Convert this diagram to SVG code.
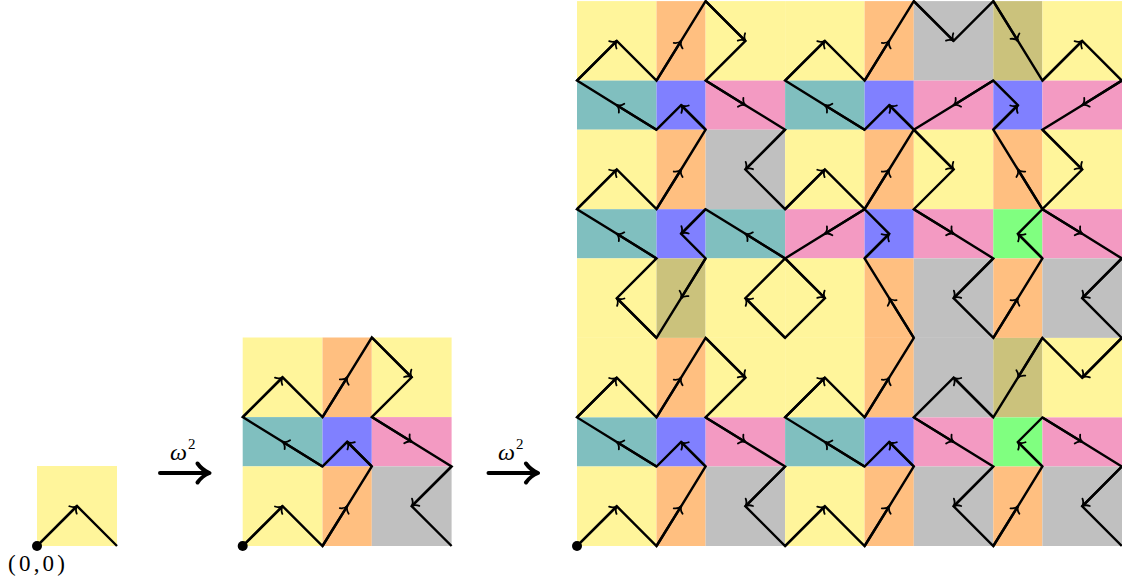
<svg xmlns="http://www.w3.org/2000/svg" width="1122" height="584" viewBox="0 0 1122 584">
<style>
.y{fill:#FFF59B}.o{fill:#FFBF80}.t{fill:#80BFBF}.b{fill:#8080FF}.p{fill:#F39AC2}.g{fill:#C0C0C0}.ol{fill:#CBC27C}.gr{fill:#80FF80}
.route{fill:none;stroke:#000;stroke-width:2.4;stroke-linejoin:miter}
.arr path{fill:none;stroke:#000;stroke-width:2.4;marker-end:url(#ah)}
.lbl{font-family:"Liberation Serif","DejaVu Serif",serif;fill:#000}
.big{fill:none;stroke:#000;stroke-width:4;stroke-linecap:round;stroke-linejoin:round}
</style>
<defs>
<marker id="ah" markerUnits="userSpaceOnUse" orient="auto" overflow="visible" viewBox="-8 -7 10 14" markerWidth="10" markerHeight="14" refX="0" refY="0">
<path d="M-5.6,-5.2 C-4.2,-2 -1.8,-0.4 0.5,0 C-1.8,0.4 -4.2,2 -5.6,5.2" fill="none" stroke="#000" stroke-width="1.8" stroke-linecap="round"/>
</marker>
</defs>

<g id="tiling0">
<g id="S-r0c0"><rect class="y" x="37" y="466" width="80" height="80"/></g>
</g>

<g id="tiling1">
<g id="M-r0c0"><rect class="y" x="242.7" y="337.5" width="79.8" height="79.6"/></g>
<g id="M-r0c1"><rect class="o" x="322.5" y="337.5" width="49.3" height="79.6"/></g>
<g id="M-r0c2"><rect class="y" x="371.8" y="337.5" width="79.8" height="79.6"/></g>
<g id="M-r1c0"><rect class="t" x="242.7" y="417.1" width="79.8" height="49.3"/></g>
<g id="M-r1c1"><rect class="b" x="322.5" y="417.1" width="49.3" height="49.3"/></g>
<g id="M-r1c2"><rect class="p" x="371.8" y="417.1" width="79.8" height="49.3"/></g>
<g id="M-r2c0"><rect class="y" x="242.7" y="466.4" width="79.8" height="79.6"/></g>
<g id="M-r2c1"><rect class="o" x="322.5" y="466.4" width="49.3" height="79.6"/></g>
<g id="M-r2c2"><rect class="g" x="371.8" y="466.4" width="79.8" height="79.6"/></g>
</g>

<g id="tiling2">
<g id="B-r0c0"><rect class="y" x="577" y="1.1" width="79.5" height="79.5"/></g>
<g id="B-r0c1"><rect class="o" x="656.5" y="1.1" width="49.1" height="79.5"/></g>
<g id="B-r0c2"><rect class="y" x="705.6" y="1.1" width="79.5" height="79.5"/></g>
<g id="B-r0c3"><rect class="y" x="785.1" y="1.1" width="79.5" height="79.5"/></g>
<g id="B-r0c4"><rect class="o" x="864.6" y="1.1" width="49.2" height="79.5"/></g>
<g id="B-r0c5"><rect class="g" x="913.8" y="1.1" width="79.5" height="79.5"/></g>
<g id="B-r0c6"><rect class="ol" x="993.3" y="1.1" width="49.1" height="79.5"/></g>
<g id="B-r0c7"><rect class="y" x="1042.4" y="1.1" width="79.6" height="79.5"/></g>

<g id="B-r1c0"><rect class="t" x="577" y="80.6" width="79.5" height="49.1"/></g>
<g id="B-r1c1"><rect class="b" x="656.5" y="80.6" width="49.1" height="49.1"/></g>
<g id="B-r1c2"><rect class="p" x="705.6" y="80.6" width="79.5" height="49.1"/></g>
<g id="B-r1c3"><rect class="t" x="785.1" y="80.6" width="79.5" height="49.1"/></g>
<g id="B-r1c4"><rect class="b" x="864.6" y="80.6" width="49.2" height="49.1"/></g>
<g id="B-r1c5"><rect class="p" x="913.8" y="80.6" width="79.5" height="49.1"/></g>
<g id="B-r1c6"><rect class="b" x="993.3" y="80.6" width="49.1" height="49.1"/></g>
<g id="B-r1c7"><rect class="p" x="1042.4" y="80.6" width="79.6" height="49.1"/></g>

<g id="B-r2c0"><rect class="y" x="577" y="129.7" width="79.5" height="79.5"/></g>
<g id="B-r2c1"><rect class="o" x="656.5" y="129.7" width="49.1" height="79.5"/></g>
<g id="B-r2c2"><rect class="g" x="705.6" y="129.7" width="79.5" height="79.5"/></g>
<g id="B-r2c3"><rect class="y" x="785.1" y="129.7" width="79.5" height="79.5"/></g>
<g id="B-r2c4"><rect class="o" x="864.6" y="129.7" width="49.2" height="79.5"/></g>
<g id="B-r2c5"><rect class="y" x="913.8" y="129.7" width="79.5" height="79.5"/></g>
<g id="B-r2c6"><rect class="o" x="993.3" y="129.7" width="49.1" height="79.5"/></g>
<g id="B-r2c7"><rect class="y" x="1042.4" y="129.7" width="79.6" height="79.5"/></g>

<g id="B-r3c0"><rect class="t" x="577" y="209.2" width="79.5" height="49.2"/></g>
<g id="B-r3c1"><rect class="b" x="656.5" y="209.2" width="49.1" height="49.2"/></g>
<g id="B-r3c2"><rect class="t" x="705.6" y="209.2" width="79.5" height="49.2"/></g>
<g id="B-r3c3"><rect class="p" x="785.1" y="209.2" width="79.5" height="49.2"/></g>
<g id="B-r3c4"><rect class="b" x="864.6" y="209.2" width="49.2" height="49.2"/></g>
<g id="B-r3c5"><rect class="p" x="913.8" y="209.2" width="79.5" height="49.2"/></g>
<g id="B-r3c6"><rect class="gr" x="993.3" y="209.2" width="49.1" height="49.2"/></g>
<g id="B-r3c7"><rect class="p" x="1042.4" y="209.2" width="79.6" height="49.2"/></g>

<g id="B-r4c0"><rect class="y" x="577" y="258.4" width="79.5" height="79.5"/></g>
<g id="B-r4c1"><rect class="ol" x="656.5" y="258.4" width="49.1" height="79.5"/></g>
<g id="B-r4c2"><rect class="y" x="705.6" y="258.4" width="79.5" height="79.5"/></g>
<g id="B-r4c3"><rect class="y" x="785.1" y="258.4" width="79.5" height="79.5"/></g>
<g id="B-r4c4"><rect class="o" x="864.6" y="258.4" width="49.2" height="79.5"/></g>
<g id="B-r4c5"><rect class="g" x="913.8" y="258.4" width="79.5" height="79.5"/></g>
<g id="B-r4c6"><rect class="o" x="993.3" y="258.4" width="49.1" height="79.5"/></g>
<g id="B-r4c7"><rect class="g" x="1042.4" y="258.4" width="79.6" height="79.5"/></g>

<g id="B-r5c0"><rect class="y" x="577" y="337.9" width="79.5" height="79.5"/></g>
<g id="B-r5c1"><rect class="o" x="656.5" y="337.9" width="49.1" height="79.5"/></g>
<g id="B-r5c2"><rect class="y" x="705.6" y="337.9" width="79.5" height="79.5"/></g>
<g id="B-r5c3"><rect class="y" x="785.1" y="337.9" width="79.5" height="79.5"/></g>
<g id="B-r5c4"><rect class="o" x="864.6" y="337.9" width="49.2" height="79.5"/></g>
<g id="B-r5c5"><rect class="g" x="913.8" y="337.9" width="79.5" height="79.5"/></g>
<g id="B-r5c6"><rect class="ol" x="993.3" y="337.9" width="49.1" height="79.5"/></g>
<g id="B-r5c7"><rect class="y" x="1042.4" y="337.9" width="79.6" height="79.5"/></g>

<g id="B-r6c0"><rect class="t" x="577" y="417.4" width="79.5" height="49.1"/></g>
<g id="B-r6c1"><rect class="b" x="656.5" y="417.4" width="49.1" height="49.1"/></g>
<g id="B-r6c2"><rect class="p" x="705.6" y="417.4" width="79.5" height="49.1"/></g>
<g id="B-r6c3"><rect class="t" x="785.1" y="417.4" width="79.5" height="49.1"/></g>
<g id="B-r6c4"><rect class="b" x="864.6" y="417.4" width="49.2" height="49.1"/></g>
<g id="B-r6c5"><rect class="p" x="913.8" y="417.4" width="79.5" height="49.1"/></g>
<g id="B-r6c6"><rect class="gr" x="993.3" y="417.4" width="49.1" height="49.1"/></g>
<g id="B-r6c7"><rect class="p" x="1042.4" y="417.4" width="79.6" height="49.1"/></g>

<g id="B-r7c0"><rect class="y" x="577" y="466.5" width="79.5" height="79.5"/></g>
<g id="B-r7c1"><rect class="o" x="656.5" y="466.5" width="49.1" height="79.5"/></g>
<g id="B-r7c2"><rect class="g" x="705.6" y="466.5" width="79.5" height="79.5"/></g>
<g id="B-r7c3"><rect class="y" x="785.1" y="466.5" width="79.5" height="79.5"/></g>
<g id="B-r7c4"><rect class="o" x="864.6" y="466.5" width="49.2" height="79.5"/></g>
<g id="B-r7c5"><rect class="g" x="913.8" y="466.5" width="79.5" height="79.5"/></g>
<g id="B-r7c6"><rect class="o" x="993.3" y="466.5" width="49.1" height="79.5"/></g>
<g id="B-r7c7"><rect class="g" x="1042.4" y="466.5" width="79.6" height="79.5"/></g>
</g>

<g id="connectors">
<polyline class="route" points="37,546 77,506 117,546"/>
<polyline class="route" points="242.7,546 282.6,506.2 322.5,546 347.2,506.2 371.8,466.4 347.2,441.8 322.5,466.4 282.6,441.8 242.7,417.1 282.6,377.3 322.5,417.1 347.2,377.3 371.8,337.5 411.7,377.3 371.8,417.1 411.7,441.8 451.6,466.4 411.7,506.2 451.6,546"/>
<polyline class="route" points="577,546 616.8,506.3 656.5,546 681.1,506.3 705.6,466.5 681.1,442 656.5,466.5 616.8,442 577,417.4 616.8,377.7 656.5,417.4 681.1,377.7 705.6,337.9 745.4,377.7 705.6,417.4 745.4,442 785.1,466.5 745.4,506.3 785.1,546 824.9,506.3 864.6,546 889.2,506.3 913.8,466.5 889.2,442 864.6,466.5 824.9,442 785.1,417.4 824.9,377.7 864.6,417.4 889.2,377.7 913.8,337.9 889.2,298.2 864.6,258.4 889.2,233.8 864.6,209.2 824.9,233.8 785.1,258.4 824.9,298.2 785.1,337.9 745.4,298.2 785.1,258.4 745.4,233.8 705.6,209.2 681.1,233.8 705.6,258.4 681.1,298.2 656.5,337.9 616.8,298.2 656.5,258.4 616.8,233.8 577,209.2 616.8,169.5 656.5,209.2 681.1,169.5 705.6,129.7 681.1,105.2 656.5,129.7 616.8,105.2 577,80.6 616.8,40.9 656.5,80.6 681.1,40.9 705.6,1.1 745.4,40.9 705.6,80.6 745.4,105.2 785.1,129.7 745.4,169.5 785.1,209.2 824.9,169.5 864.6,209.2 889.2,169.5 913.8,129.7 889.2,105.2 864.6,129.7 824.9,105.2 785.1,80.6 824.9,40.9 864.6,80.6 889.2,40.9 913.8,1.1 953.6,40.9 993.3,1.1 1017.9,40.9 1042.4,80.6 1082.2,40.9 1121.8,80.6 1082.2,105.2 1042.4,129.7 1082.2,169.5 1042.4,209.2 1017.9,169.5 993.3,129.7 1017.9,105.2 993.3,80.6 953.6,105.2 913.8,129.7 953.6,169.5 913.8,209.2 953.6,233.8 993.3,258.4 953.6,298.2 993.3,337.9 1017.9,298.2 1042.4,258.4 1017.9,233.8 1042.4,209.2 1082.2,233.8 1121.8,258.4 1082.2,298.2 1121.8,337.9 1082.2,377.7 1042.4,337.9 1017.9,377.7 993.3,417.4 953.6,377.7 913.8,417.4 953.6,442 993.3,466.5 953.6,506.3 993.3,546 1017.9,506.3 1042.4,466.5 1017.9,442 1042.4,417.4 1082.2,442 1121.8,466.5 1082.2,506.3 1121.8,546"/>
<g class="arr">
<path d="M37 546L77 506"/>
<path d="M242.7 546L282.6 506.2"/>
<path d="M322.5 546L347.2 506.2"/>
<path d="M371.8 466.4L347.2 441.8"/>
<path d="M322.5 466.4L282.6 441.8"/>
<path d="M242.7 417.1L282.6 377.3"/>
<path d="M322.5 417.1L347.2 377.3"/>
<path d="M371.8 337.5L411.7 377.3"/>
<path d="M371.8 417.1L411.7 441.8"/>
<path d="M451.6 466.4L411.7 506.2"/>
<path d="M577 546L616.8 506.3"/>
<path d="M656.5 546L681.1 506.3"/>
<path d="M705.6 466.5L681.1 442"/>
<path d="M656.5 466.5L616.8 442"/>
<path d="M577 417.4L616.8 377.7"/>
<path d="M656.5 417.4L681.1 377.7"/>
<path d="M705.6 337.9L745.4 377.7"/>
<path d="M705.6 417.4L745.4 442"/>
<path d="M785.1 466.5L745.4 506.3"/>
<path d="M785.1 546L824.9 506.3"/>
<path d="M864.6 546L889.2 506.3"/>
<path d="M913.8 466.5L889.2 442"/>
<path d="M864.6 466.5L824.9 442"/>
<path d="M785.1 417.4L824.9 377.7"/>
<path d="M864.6 417.4L889.2 377.7"/>
<path d="M913.8 337.9L889.2 298.2"/>
<path d="M864.6 258.4L889.2 233.8"/>
<path d="M864.6 209.2L824.9 233.8"/>
<path d="M785.1 258.4L824.9 298.2"/>
<path d="M785.1 337.9L745.4 298.2"/>
<path d="M785.1 258.4L745.4 233.8"/>
<path d="M705.6 209.2L681.1 233.8"/>
<path d="M705.6 258.4L681.1 298.2"/>
<path d="M656.5 337.9L616.8 298.2"/>
<path d="M656.5 258.4L616.8 233.8"/>
<path d="M577 209.2L616.8 169.5"/>
<path d="M656.5 209.2L681.1 169.5"/>
<path d="M705.6 129.7L681.1 105.2"/>
<path d="M656.5 129.7L616.8 105.2"/>
<path d="M577 80.6L616.8 40.9"/>
<path d="M656.5 80.6L681.1 40.9"/>
<path d="M705.6 1.1L745.4 40.9"/>
<path d="M705.6 80.6L745.4 105.2"/>
<path d="M785.1 129.7L745.4 169.5"/>
<path d="M785.1 209.2L824.9 169.5"/>
<path d="M864.6 209.2L889.2 169.5"/>
<path d="M913.8 129.7L889.2 105.2"/>
<path d="M864.6 129.7L824.9 105.2"/>
<path d="M785.1 80.6L824.9 40.9"/>
<path d="M864.6 80.6L889.2 40.9"/>
<path d="M913.8 1.1L953.6 40.9"/>
<path d="M993.3 1.1L1017.9 40.9"/>
<path d="M1042.4 80.6L1082.2 40.9"/>
<path d="M1121.8 80.6L1082.2 105.2"/>
<path d="M1042.4 129.7L1082.2 169.5"/>
<path d="M1042.4 209.2L1017.9 169.5"/>
<path d="M993.3 129.7L1017.9 105.2"/>
<path d="M993.3 80.6L953.6 105.2"/>
<path d="M913.8 129.7L953.6 169.5"/>
<path d="M913.8 209.2L953.6 233.8"/>
<path d="M993.3 258.4L953.6 298.2"/>
<path d="M993.3 337.9L1017.9 298.2"/>
<path d="M1042.4 258.4L1017.9 233.8"/>
<path d="M1042.4 209.2L1082.2 233.8"/>
<path d="M1121.8 258.4L1082.2 298.2"/>
<path d="M1121.8 337.9L1082.2 377.7"/>
<path d="M1042.4 337.9L1017.9 377.7"/>
<path d="M993.3 417.4L953.6 377.7"/>
<path d="M913.8 417.4L953.6 442"/>
<path d="M993.3 466.5L953.6 506.3"/>
<path d="M993.3 546L1017.9 506.3"/>
<path d="M1042.4 466.5L1017.9 442"/>
<path d="M1042.4 417.4L1082.2 442"/>
<path d="M1121.8 466.5L1082.2 506.3"/>
</g>
</g>

<g id="origins">
<circle cx="37" cy="546" r="5" fill="#000"/>
<circle cx="242.7" cy="546" r="5" fill="#000"/>
<circle cx="577" cy="546" r="5" fill="#000"/>
</g>

<g id="subst1">
<path class="big" d="M160,473 H208.5 M197.5,463.5 Q202,470 209.5,473 Q202,476 197.5,482.5"/>
<text class="lbl" x="170" y="460" font-size="24" font-style="italic">ω</text>
<text class="lbl" x="188" y="448.5" font-size="15">2</text>
</g>
<g id="subst2">
<path class="big" d="M488.5,473 H537 M526,463.5 Q530.5,470 538,473 Q530.5,476 526,482.5"/>
<text class="lbl" x="498" y="460" font-size="24" font-style="italic">ω</text>
<text class="lbl" x="516" y="448.5" font-size="15">2</text>
</g>

<text class="lbl" x="8" y="571" font-size="23" textLength="57" lengthAdjust="spacing">(0,0)</text>
</svg>
